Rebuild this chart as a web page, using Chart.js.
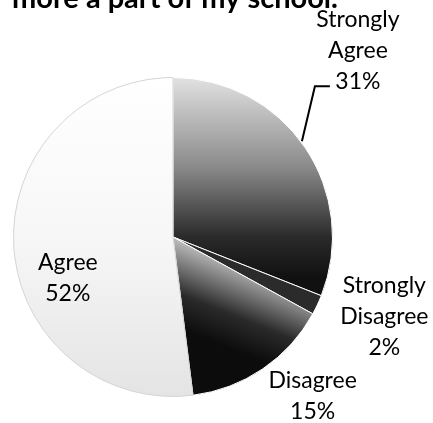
<!DOCTYPE html>
<html lang="en">
<head>
  <meta charset="UTF-8" />
  <title>Feel more a part of my school</title>
  <script src="https://cdn.jsdelivr.net/npm/chart.js"></script>
  <style>
    body { margin: 0; background: #fff; }
    canvas { display: block; }
  </style>
</head>
<body>
  <canvas id="pieChart" width="433" height="423"></canvas>

  <script>
    // data
    const titleText = 'more a part of my school.';
    const categories = ['Strongly Agree', 'Strongly Disagree', 'Disagree', 'Agree'];
    const percents = [31, 2, 15, 52];

    // label placement: offset of the first text line from the slice's outer mid point
    const labelOffsets = [[53, -120], [67, -12], [50, 19], [54, 23]];
    const labelFont = '23px Lato';
    const lineGap = 31;

    // gradient fills, the scan shows shaded slices
    function sliceFill(ctx) {
      const chart = ctx.chart;
      const area = chart.chartArea;
      if (!area) return '#888';
      const c = chart.ctx;
      const i = ctx.dataIndex;
      let g;
      if (i === 0) {
        g = c.createLinearGradient(0, area.top, 0, area.top + 200);
        g.addColorStop(0, '#e2e2e2');
        g.addColorStop(0.45, '#8a8a8a');
        g.addColorStop(0.8, '#2a2a2a');
        g.addColorStop(1, '#111');
        return g;
      }
      if (i === 1) return '#2b2b2b';
      if (i === 2) {
        const cx = (area.left + area.right) / 2;
        const cy = (area.top + area.bottom) / 2;
        g = c.createLinearGradient(cx + 70, cy + 30, cx + 40, cy + 105);
        g.addColorStop(0, '#b8b8b8');
        g.addColorStop(0.6, '#2a2a2a');
        g.addColorStop(1, '#0c0c0c');
        return g;
      }
      g = c.createLinearGradient(0, area.top, 0, area.bottom);
      g.addColorStop(0, '#ffffff');
      g.addColorStop(0.5, '#f7f7f7');
      g.addColorStop(1, '#e4e4e4');
      return g;
    }

    const labelPlugin = {
      id: 'scanLabels',
      afterDraw(chart) {
        const c = chart.ctx;
        const meta = chart.getDatasetMeta(0);
        c.save();

        // title, the scan cuts it at the top
        c.fillStyle = '#000';
        c.font = 'bold 29px Lato';
        c.textAlign = 'left';
        c.textBaseline = 'alphabetic';
        c.fillText(titleText, 12, 8);

        c.font = labelFont;
        c.textAlign = 'center';
        meta.data.forEach((arc, i) => {
          const p = arc.getProps(['x', 'y', 'startAngle', 'endAngle', 'outerRadius'], true);
          const mid = (p.startAngle + p.endAngle) / 2;
          const ax = p.x + Math.cos(mid) * p.outerRadius;
          const ay = p.y + Math.sin(mid) * p.outerRadius;
          const lines = categories[i].split(' ').concat([percents[i] + '%']);
          const [dx, dy] = labelOffsets[i];
          lines.forEach((t, k) => c.fillText(t, ax + dx, ay + dy + k * lineGap));

          // leader for the top slice
          if (i === 0) {
            c.strokeStyle = '#000';
            c.lineWidth = 2;
            c.beginPath();
            c.moveTo(ax - 3, ay - 6);
            c.lineTo(ax + 10, ay - 61);
            c.lineTo(ax + 25, ay - 61);
            c.stroke();
          }
        });
        c.restore();
      }
    };

    new Chart(document.getElementById('pieChart'), {
      type: 'pie',
      data: {
        labels: categories,
        datasets: [{
          data: percents,
          backgroundColor: sliceFill,
          borderColor: ['#ffffff', '#ffffff', '#ffffff', '#d4d4d4'],
          borderWidth: 1
        }]
      },
      options: {
        responsive: false,
        animation: false,
        layout: { padding: { left: 13, right: 100, top: 77, bottom: 26 } },
        plugins: {
          legend: { display: false },
          tooltip: { enabled: false }
        }
      },
      plugins: [labelPlugin]
    });
  </script>
</body>
</html>
